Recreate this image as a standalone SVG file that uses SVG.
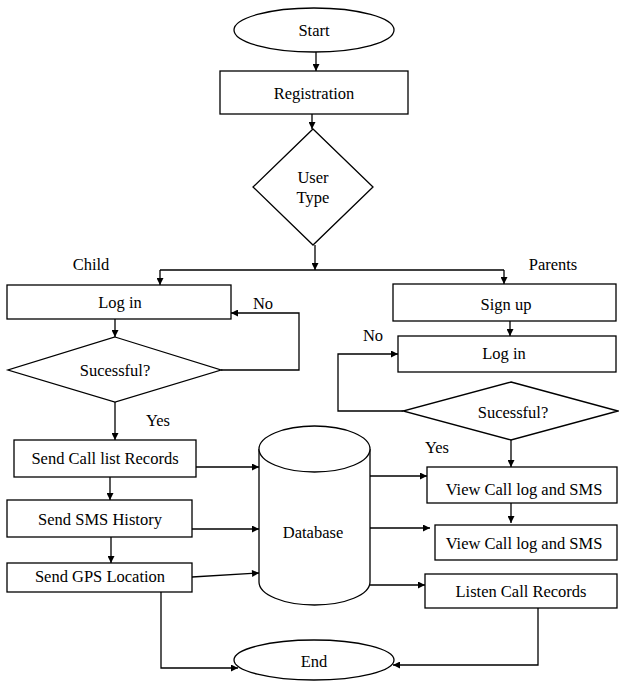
<svg xmlns="http://www.w3.org/2000/svg" width="619" height="681" viewBox="0 0 619 681">
<style>
.s{fill:#fff;stroke:#000;stroke-width:1.3}
.c{fill:none;stroke:#000;stroke-width:1.3}
text{font-family:"Liberation Serif","Times New Roman",serif;font-size:16.5px;fill:#000;text-anchor:middle;dominant-baseline:central}
</style>
<defs>
<marker id="ah" viewBox="0 0 10 10" refX="10" refY="5" markerWidth="8" markerHeight="7" orient="auto" markerUnits="userSpaceOnUse"><path d="M0,0 L10,5 L0,10 z" fill="#000"/></marker>
</defs>
<rect width="619" height="681" fill="#fff"/>
<g id="connectors">
<path class="c" d="M316,52 L316,71" marker-end="url(#ah)"/>
<path class="c" d="M312,114 L312,129" marker-end="url(#ah)"/>
<path class="c" d="M315,245 L315,270" marker-end="url(#ah)"/>
<path class="c" d="M160,270 L504,270"/>
<path class="c" d="M160,270 L160,285" marker-end="url(#ah)"/>
<path class="c" d="M504,270 L504,284" marker-end="url(#ah)"/>
<path class="c" d="M115,319 L115,337" marker-end="url(#ah)"/>
<path class="c" d="M221,370 L299,370 L299,313 L231,313" marker-end="url(#ah)"/>
<path class="c" d="M115,402 L115,440" marker-end="url(#ah)"/>
<path class="c" d="M110,477 L110,500" marker-end="url(#ah)"/>
<path class="c" d="M111,537 L111,563" marker-end="url(#ah)"/>
<path class="c" d="M161,592 L161,668 L238,668" marker-end="url(#ah)"/>
<path class="c" d="M538,608 L538,665 L393,665" marker-end="url(#ah)"/>
<path class="c" d="M196,467 L259,467" marker-end="url(#ah)"/>
<path class="c" d="M192,529 L259,529" marker-end="url(#ah)"/>
<path class="c" d="M192,577 L259,573" marker-end="url(#ah)"/>
<path class="c" d="M370,476 L427,476" marker-end="url(#ah)"/>
<path class="c" d="M370,528 L430,528" marker-end="url(#ah)"/>
<path class="c" d="M370,585 L425,585" marker-end="url(#ah)"/>
<path class="c" d="M510,321 L510,336" marker-end="url(#ah)"/>
<path class="c" d="M403,411 L338,411 L338,354 L398,354" marker-end="url(#ah)"/>
<path class="c" d="M511,440 L511,467" marker-end="url(#ah)"/>
<path class="c" d="M511,503 L511,523" marker-end="url(#ah)"/>
</g>
<g id="start"><ellipse class="s" cx="314" cy="30" rx="80" ry="22"/><text x="314" y="30">Start</text></g>
<g id="registration"><rect class="s" x="220" y="71" width="188" height="43"/><text x="314" y="93">Registration</text></g>
<g id="usertype"><polygon class="s" points="313,129 373,187 313,245 253,187"/><text x="313" y="177">User</text><text x="313" y="197">Type</text></g>
<g id="child-label"><text x="91" y="264">Child</text></g>
<g id="parents-label"><text x="553" y="264">Parents</text></g>
<g id="child-login"><rect class="s" x="7" y="285" width="224" height="34"/><text x="120" y="302">Log in</text></g>
<g id="child-no"><text x="263" y="303">No</text></g>
<g id="child-decision"><polygon class="s" points="115,337 221,370 115,402 8,370"/><text x="115" y="370">Sucessful?</text></g>
<g id="child-yes"><text x="158" y="420">Yes</text></g>
<g id="send-call"><rect class="s" x="14" y="440" width="182" height="37"/><text x="105" y="458">Send Call list Records</text></g>
<g id="send-sms"><rect class="s" x="7" y="500" width="185" height="37"/><text x="100" y="519">Send SMS History</text></g>
<g id="send-gps"><rect class="s" x="7" y="563" width="185" height="29"/><text x="100" y="576">Send GPS Location</text></g>
<g id="database">
<path class="s" d="M259,449 L259,582 A55.5,23 0 0 0 370,582 L370,449"/>
<ellipse class="s" cx="314.5" cy="449" rx="55.5" ry="23"/>
<text x="313" y="532">Database</text>
</g>
<g id="signup"><rect class="s" x="393" y="284" width="223" height="37"/><text x="506" y="304">Sign up</text></g>
<g id="parent-no"><text x="373" y="335">No</text></g>
<g id="parent-login"><rect class="s" x="398" y="336" width="218" height="36"/><text x="504" y="353">Log in</text></g>
<g id="parent-decision"><polygon class="s" points="511,382 618,411 511,440 403,411"/><text x="513" y="412">Sucessful?</text></g>
<g id="parent-yes"><text x="437" y="447">Yes</text></g>
<g id="view1"><rect class="s" x="427" y="467" width="190" height="36"/><text x="524" y="489">View Call log and SMS</text></g>
<g id="view2"><rect class="s" x="435" y="525" width="182" height="35"/><text x="524" y="543">View Call log and SMS</text></g>
<g id="listen"><rect class="s" x="425" y="574" width="192" height="34"/><text x="521" y="591">Listen Call Records</text></g>
<g id="end"><ellipse class="s" cx="314" cy="660" rx="80" ry="20"/><text x="314" y="661">End</text></g>
</svg>
